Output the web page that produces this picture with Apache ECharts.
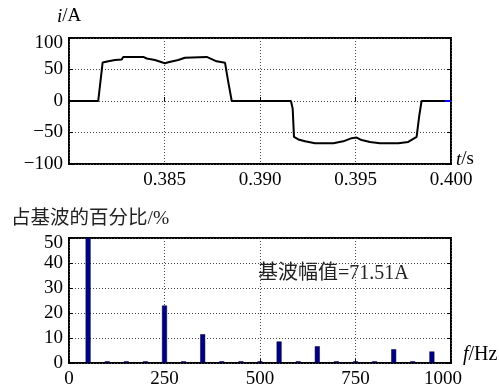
<!DOCTYPE html>
<html>
<head>
<meta charset="utf-8">
<script src="https://cdn.jsdelivr.net/npm/echarts@6/dist/echarts.min.js"></script>
<style>
  html, body { margin: 0; padding: 0; background: #fff; }
  #main { width: 499px; height: 389px; }
</style>
</head>
<body>
<div id="main"></div>
<script>
// current waveform i(t)
var currentT = [0.380, 0.38153, 0.38176, 0.38206, 0.38241, 0.38276, 0.38284, 0.38389, 0.38407, 0.38450,
    0.38490, 0.38503, 0.38520, 0.38572, 0.38607, 0.38616, 0.38721, 0.38773, 0.38817, 0.38834, 0.38852,
    0.39162, 0.39171, 0.39178, 0.39201, 0.39236, 0.39288, 0.39384, 0.39436, 0.39480, 0.39506, 0.39532,
    0.39576, 0.39628, 0.39724, 0.39776, 0.39820, 0.39834, 0.39846, 0.39969];
var currentI = [0, 0, 61, 63, 65, 66, 70, 70, 67.5, 65,
    61, 60, 61.5, 65, 68.6, 70, 70, 63, 60.6, 30, 0,
    0, -12, -57, -61, -64, -67, -67, -64, -59, -58, -62,
    -65, -67, -67, -65, -57, -23, 0, 0];
var tailT = [0.39969, 0.400];
var tailI = [0, 0];

// harmonic spectrum, % of fundamental
var harmonicFreq = [50, 100, 150, 200, 250, 300, 350, 400, 450, 500, 550, 600, 650, 700, 750, 800, 850, 900, 950];
var harmonicPct = [100, 0.7, 0.7, 0.7, 23, 0.7, 11.5, 0.7, 0.7, 0.7, 8.6, 0.7, 6.7, 0.7, 0.7, 0.7, 5.5, 0.7, 4.6];

var serif = '"Liberation Serif", "Times New Roman", serif';
var mixed = '"Liberation Serif", "Noto Sans CJK SC", serif';

function zip(a, b) {
    return a.map(function (v, i) { return [v, b[i]]; });
}

var dotted = { show: true, lineStyle: { color: '#444', type: [1, 2], width: 1 } };
var lbl = { color: '#000', fontFamily: serif, fontSize: 19 };
var tick = { show: true, inside: true, length: 4, lineStyle: { color: '#000' } };
var topRich = { top: { fontFamily: serif, fontSize: 19, color: '#000', padding: [10, 0, 0, 0] } };

var chart = echarts.init(document.getElementById('main'));
var option = {
    animation: false,
    grid: [
        { left: 69, right: 48, top: 38, height: 126, show: true, borderColor: '#000', borderWidth: 2 },
        { left: 69, right: 48, top: 238, height: 126, show: true, borderColor: '#000', borderWidth: 2 }
    ],
    xAxis: [{
        gridIndex: 0, type: 'value', min: 0.380, max: 0.400, interval: 0.005,
        axisLine: { show: false },
        axisTick: tick,
        splitLine: dotted,
        axisLabel: Object.assign({}, lbl, {
            margin: 7, showMinLabel: false,
            formatter: function (v) { return v.toFixed(3); }
        })
    }, {
        gridIndex: 1, type: 'value', min: 0, max: 1000, interval: 250,
        axisLine: { show: false },
        axisTick: tick,
        splitLine: dotted,
        axisLabel: Object.assign({}, lbl, {
            margin: 7,
            formatter: function (v) {
                if (v === 1000) return '{r|1000}';
                return String(v);
            },
            rich: { r: { fontFamily: serif, fontSize: 19, color: '#000', padding: [0, 16, 0, 0] } }
        })
    }],
    yAxis: [{
        gridIndex: 0, type: 'value', min: -100, max: 100, interval: 50,
        axisLine: { show: false },
        axisTick: tick,
        splitLine: dotted,
        axisLabel: Object.assign({}, lbl, {
            margin: 6,
            formatter: function (v) {
                if (v === 100) return '{top|100}';
                return String(v).replace('-', '\u2212');
            },
            rich: topRich
        })
    }, {
        gridIndex: 0, type: 'value', min: -100, max: 100, interval: 50, position: 'right',
        axisLine: { show: false },
        axisTick: tick,
        splitLine: { show: false },
        axisLabel: { show: false }
    }, {
        gridIndex: 1, type: 'value', min: 0, max: 50, interval: 10,
        axisLine: { show: false },
        axisTick: tick,
        splitLine: dotted,
        axisLabel: Object.assign({}, lbl, {
            margin: 6,
            formatter: function (v) {
                if (v === 50) return '{top|50}';
                return String(v);
            },
            rich: topRich
        })
    }, {
        gridIndex: 1, type: 'value', min: 0, max: 50, interval: 10, position: 'right',
        axisLine: { show: false },
        axisTick: tick,
        splitLine: { show: false },
        axisLabel: { show: false }
    }],
    series: [{
        type: 'line', xAxisIndex: 0, yAxisIndex: 0,
        data: zip(currentT, currentI),
        symbol: 'none',
        lineStyle: { color: '#000', width: 2 }
    }, {
        type: 'line', xAxisIndex: 0, yAxisIndex: 0,
        data: zip(tailT, tailI),
        symbol: 'none',
        lineStyle: { color: '#0000ff', width: 2 }
    }, {
        type: 'bar', xAxisIndex: 1, yAxisIndex: 2,
        data: zip(harmonicFreq, harmonicPct),
        barWidth: 5,
        clip: true,
        itemStyle: { color: '#000080', borderColor: '#000030', borderWidth: 0.5 }
    }],
    graphic: [{
        type: 'text', left: 57, top: 7,
        style: {
            text: '{it|i}/A', fontFamily: serif, fontSize: 19, fill: '#000',
            rich: { it: { fontStyle: 'italic', fontFamily: serif, fontSize: 19 } }
        }
    }, {
        type: 'text', left: 456, top: 150,
        style: {
            text: '{it|t}/s', fontFamily: serif, fontSize: 19, fill: '#000',
            rich: { it: { fontStyle: 'italic', fontFamily: serif, fontSize: 19 } }
        }
    }, {
        type: 'text', left: 11, top: 209,
        style: { text: '占基波的百分比/%', fontFamily: mixed, fontSize: 19.5, fill: '#222' }
    }, {
        type: 'text', left: 258, top: 264,
        style: { text: '基波幅值=71.51A', fontFamily: mixed, fontSize: 20, fill: '#222' }
    }, {
        type: 'text', left: 463, top: 345,
        style: {
            text: '{it|f}/Hz', fontFamily: serif, fontSize: 20, fill: '#000',
            rich: { it: { fontStyle: 'italic', fontFamily: serif, fontSize: 20 } }
        }
    }]
};
chart.setOption(option);
</script>
</body>
</html>
